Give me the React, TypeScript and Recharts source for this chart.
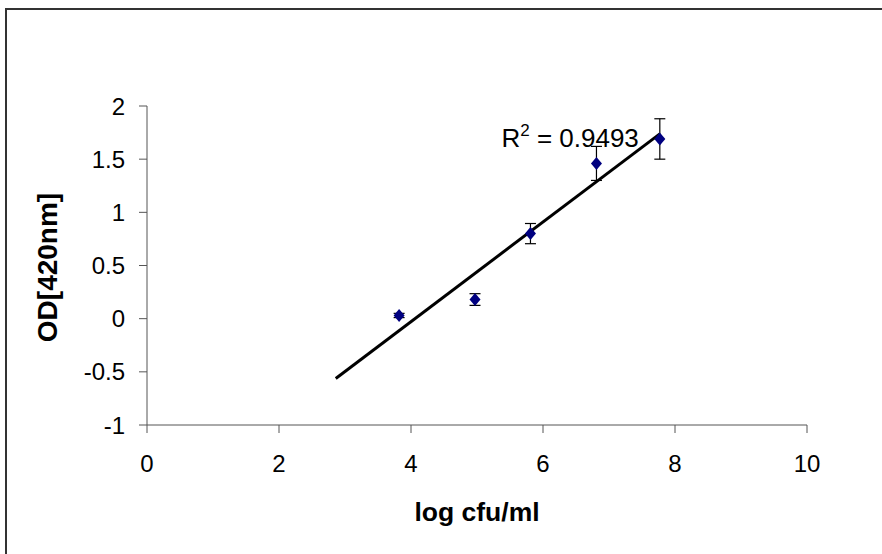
import {
  ComposedChart,
  Scatter,
  XAxis,
  YAxis,
  ErrorBar,
  ReferenceDot,
} from "recharts";

// measured OD at each dilution (mean ± sd)
const logCfu = [3.82, 4.97, 5.81, 6.81, 7.77];
const odMeans = [0.03, 0.18, 0.8, 1.46, 1.69];
const odErrors = [0.02, 0.055, 0.095, 0.16, 0.19];

const xTicks = [0, 2, 4, 6, 8, 10];
const yTicks = [-1, -0.5, 0, 0.5, 1, 1.5, 2];

// trendline is drawn backwards to here
const trendFrom = 2.86;
const rSquaredText = "0.9493";

const FONT = '"Liberation Sans", Arial, sans-serif';

const points = logCfu.map((x, i) => ({ x, y: odMeans[i], err: odErrors[i] }));

// least squares fit through the measured points
function fitLine(xs: number[], ys: number[]) {
  const n = xs.length;
  const mx = xs.reduce((a, b) => a + b, 0) / n;
  const my = ys.reduce((a, b) => a + b, 0) / n;
  let sxy = 0;
  let sxx = 0;
  for (let i = 0; i < n; i++) {
    sxy += (xs[i] - mx) * (ys[i] - my);
    sxx += (xs[i] - mx) * (xs[i] - mx);
  }
  const slope = sxy / sxx;
  return { slope, intercept: my - slope * mx };
}

const fit = fitLine(logCfu, odMeans);
const trendEnd = Math.max(...logCfu);
const trend = [trendFrom, trendEnd].map((x) => ({
  x,
  y: fit.intercept + fit.slope * x,
}));

function Diamond(props: any) {
  const { cx, cy } = props;
  if (cx == null || cy == null) return <g />;
  return (
    <polygon
      points={`${cx},${cy - 6.5} ${cx + 5.5},${cy} ${cx},${cy + 6.5} ${cx - 5.5},${cy}`}
      fill="#000080"
    />
  );
}

function RSquared(props: any) {
  const { viewBox } = props;
  return (
    <text x={viewBox.x} y={viewBox.y} fontFamily={FONT} fontSize={26} fill="#000">
      <tspan>R</tspan>
      <tspan dy={-11} fontSize={17}>
        2
      </tspan>
      <tspan dy={11}>{` = ${rSquaredText}`}</tspan>
    </text>
  );
}

function XTitle(props: any) {
  const { viewBox } = props;
  return (
    <text
      x={viewBox.x + viewBox.width / 2}
      y={viewBox.y + 96}
      textAnchor="middle"
      fontFamily={FONT}
      fontSize={26.5}
      fontWeight="bold"
      fill="#000"
    >
      log cfu/ml
    </text>
  );
}

function YTitle(props: any) {
  const { viewBox } = props;
  const cx = 47;
  const cy = viewBox.y + viewBox.height / 2 + 2;
  return (
    <text
      x={cx}
      y={cy}
      transform={`rotate(-90 ${cx} ${cy})`}
      textAnchor="middle"
      dominantBaseline="central"
      fontFamily={FONT}
      fontSize={28}
      fontWeight="bold"
      fill="#000"
    >
      OD[420nm]
    </text>
  );
}

export default function App() {
  const tickStyle = { fontFamily: FONT, fontSize: 24, fill: "#000" };
  return (
    <div
      style={{
        position: "absolute",
        left: 0,
        top: 0,
        width: 882,
        height: 554,
        overflow: "hidden",
        background: "#fff",
      }}
    >
      <div
        style={{
          position: "absolute",
          left: 5,
          top: 8,
          width: 920,
          height: 600,
          border: "2px solid #333",
        }}
      />
      <ComposedChart
        width={882}
        height={554}
        margin={{ top: 106, right: 75, bottom: 0, left: 0 }}
        style={{ position: "absolute", left: 0, top: 0 }}
      >
        <XAxis
          type="number"
          dataKey="x"
          domain={[0, 10]}
          ticks={xTicks}
          height={129}
          tickSize={8}
          tickMargin={22}
          stroke="#555"
          tick={tickStyle}
          label={{ content: XTitle }}
        />
        <YAxis
          type="number"
          dataKey="y"
          domain={[-1, 2]}
          ticks={yTicks}
          width={147}
          tickSize={8}
          tickMargin={14}
          stroke="#555"
          tick={tickStyle}
          label={{ content: YTitle }}
        />
        <Scatter
          data={trend}
          line={{ stroke: "#000", strokeWidth: 3 }}
          shape={() => <g />}
          isAnimationActive={false}
        />
        <Scatter data={points} shape={Diamond} isAnimationActive={false}>
          <ErrorBar
            dataKey="err"
            direction="y"
            width={5.5}
            stroke="#000"
            strokeWidth={1.2}
          />
        </Scatter>
        <ReferenceDot
          x={5.37}
          y={1.61}
          r={0}
          stroke="none"
          fill="none"
          label={{ content: RSquared }}
        />
      </ComposedChart>
    </div>
  );
}
